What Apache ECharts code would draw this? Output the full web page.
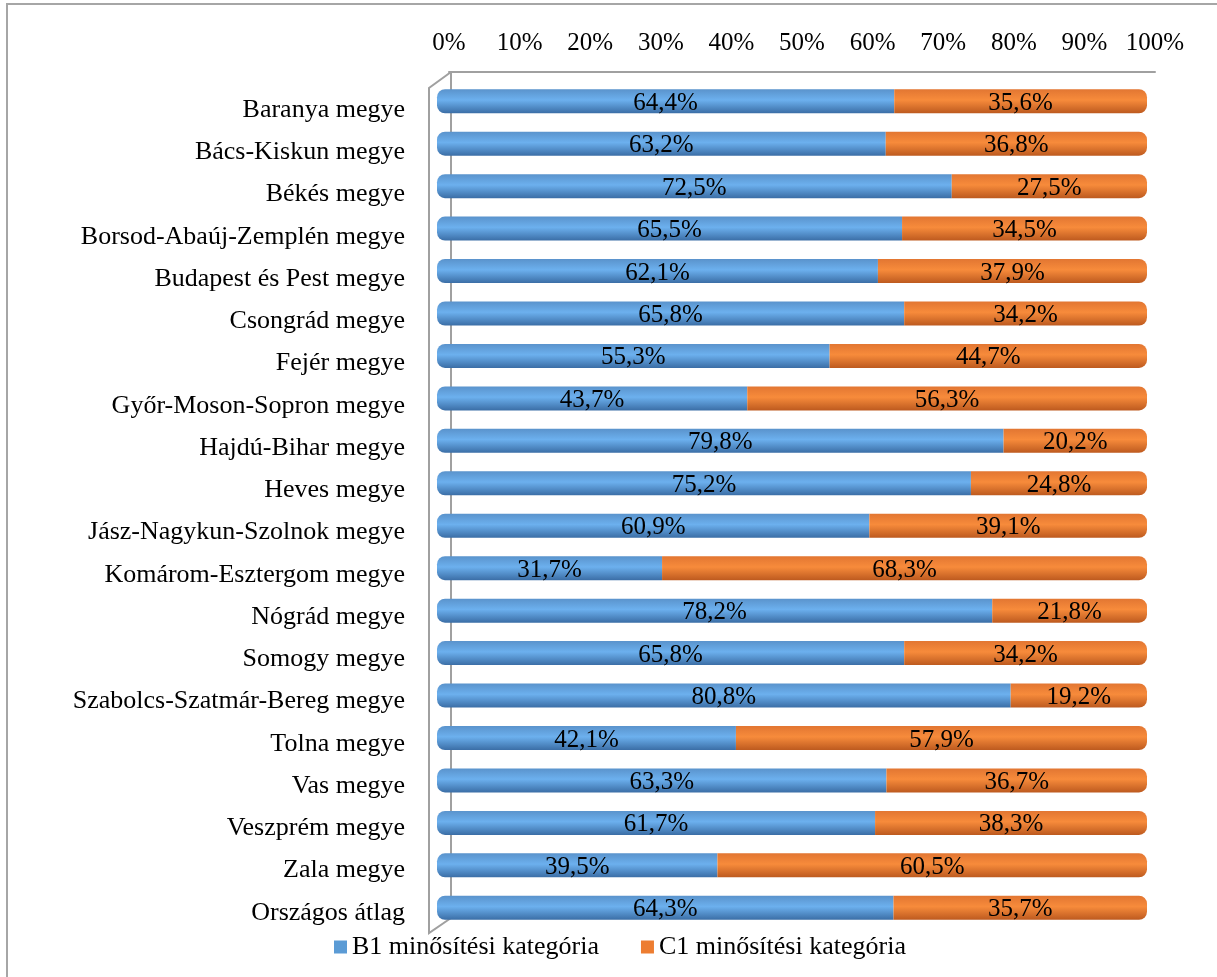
<!DOCTYPE html>
<html>
<head>
<meta charset="utf-8">
<script src="https://cdn.jsdelivr.net/npm/echarts@6/dist/echarts.min.js"></script>
<style>
html,body{margin:0;padding:0;background:#fff;}
#main{width:1217px;height:977px;}
</style>
</head>
<body>
<div id="main"></div>
<script>
const categories = [
  "Baranya megye","Bács-Kiskun megye","Békés megye","Borsod-Abaúj-Zemplén megye",
  "Budapest és Pest megye","Csongrád megye","Fejér megye","Győr-Moson-Sopron megye",
  "Hajdú-Bihar megye","Heves megye","Jász-Nagykun-Szolnok megye","Komárom-Esztergom megye",
  "Nógrád megye","Somogy megye","Szabolcs-Szatmár-Bereg megye","Tolna megye",
  "Vas megye","Veszprém megye","Zala megye","Országos átlag"
];
const b1Values = [64.4,63.2,72.5,65.5,62.1,65.8,55.3,43.7,79.8,75.2,60.9,31.7,78.2,65.8,80.8,42.1,63.3,61.7,39.5,64.3];
const c1Values = [35.6,36.8,27.5,34.5,37.9,34.2,44.7,56.3,20.2,24.8,39.1,68.3,21.8,34.2,19.2,57.9,36.7,38.3,60.5,35.7];
const seriesNames = ["B1 minősítési kategória","C1 minősítési kategória"];
const tickValues = [0,10,20,30,40,50,60,70,80,90,100];

const FONT = "'Liberation Serif', 'DejaVu Serif', serif";
const chart = echarts.init(document.getElementById('main'));

function grad(top, mid, bottom){
  return new echarts.graphic.LinearGradient(0,0,0,1,[
    {offset:0,color:top},{offset:0.45,color:mid},{offset:1,color:bottom}
  ]);
}
const fmt = p => p.value.toFixed(1).replace('.', ',') + '%';

chart.setOption({
  backgroundColor:'#fff',
  animation:false,
  graphic:[
    {type:'rect', shape:{x:7,y:4,width:1400,height:1200}, style:{fill:'none',stroke:'#a6a6a6',lineWidth:2}, z:-1},
    {type:'polyline', shape:{points:[[451,918],[451,72]]}, style:{stroke:'#a0a0a0',lineWidth:2,fill:'none'}, z:-1},
    {type:'polyline', shape:{points:[[451,72],[429,88],[429,933],[451,918]]}, style:{stroke:'#a0a0a0',lineWidth:2,fill:'none'}, z:-1}
  ],
  legend:{
    left:329, top:929,
    itemWidth:13, itemHeight:13, itemGap:42,
    icon:'rect',
    textStyle:{fontFamily:FONT,fontSize:26,color:'#000'},
    data:[
      {name:seriesNames[0], itemStyle:{color:'#5b9bd5'}},
      {name:seriesNames[1], itemStyle:{color:'#ed7d31'}}
    ]
  },
  grid:[
    {left:437, right:70, top:80, height:849},
    {left:449, right:62, top:72, height:849},
    {left:437, right:70, top:89, height:845}
  ],
  xAxis:[
    {type:'value', gridIndex:0, min:0, max:100, interval:10, show:false},
    {type:'value', gridIndex:1, min:0, max:100, interval:10, position:'top',
     axisLine:{show:true, lineStyle:{color:'#a0a0a0', width:2}},
     axisTick:{show:false}, splitLine:{show:false},
     axisLabel:{margin:16, fontFamily:FONT, fontSize:25, color:'#000',
       formatter: v => tickValues.includes(v) ? v + '%' : ''}},
    {type:'value', gridIndex:2, min:0, max:100, show:false}
  ],
  yAxis:[
    {type:'category', gridIndex:0, data:categories, inverse:true, show:false},
    {type:'category', gridIndex:1, data:categories, inverse:true, show:false},
    {type:'category', gridIndex:2, data:categories, inverse:true,
     axisLine:{show:false}, axisTick:{show:false}, splitLine:{show:false},
     axisLabel:{margin:32, fontFamily:FONT, fontSize:26, color:'#000'}}
  ],
  series:[
    {name:seriesNames[0], type:'bar', stack:'t', xAxisIndex:0, yAxisIndex:0,
     barWidth:24, data:b1Values,
     itemStyle:{color:grad('#5a93cc','#6cb0ee','#3b6ea6'), borderRadius:[8,0,0,8]},
     label:{show:true, position:'inside', offset:[0,2], formatter:fmt, fontFamily:FONT, fontSize:25, color:'#000'}},
    {name:seriesNames[1], type:'bar', stack:'t', xAxisIndex:0, yAxisIndex:0,
     barWidth:24, data:c1Values,
     itemStyle:{color:grad('#e27632','#f78b3b','#bd5a1f'), borderRadius:[0,8,8,0]},
     label:{show:true, position:'inside', offset:[0,2], formatter:fmt, fontFamily:FONT, fontSize:25, color:'#000'}}
  ]
});
</script>
</body>
</html>
